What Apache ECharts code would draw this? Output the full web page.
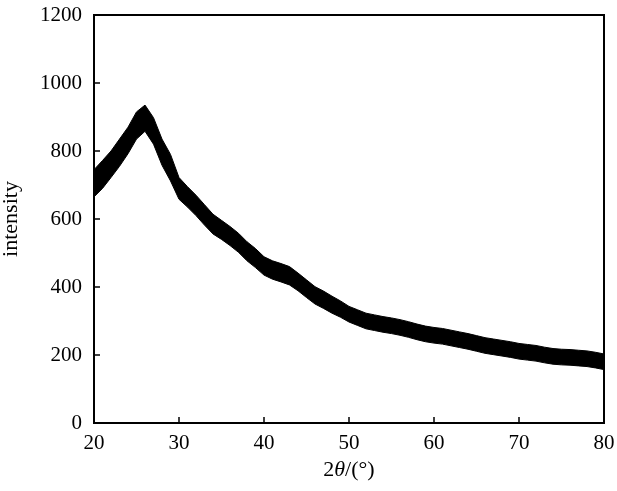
<!DOCTYPE html>
<html>
<head>
<meta charset="utf-8">
<script src="https://cdn.jsdelivr.net/npm/echarts@6/dist/echarts.min.js"></script>
<style>html,body{margin:0;padding:0;background:#fff}#c{width:617px;height:491px}</style>
</head>
<body>
<div id="c"></div>
<script>
// 2θ positions (degrees)
const twoTheta = [20,21,22,23,24,25,26,27,28,29,30,31,32,33,34,35,36,37,38,39,40,41,42,43,44,45,46,47,48,49,50,51,52,53,54,55,56,57,58,59,60,61,62,63,64,65,66,67,68,69,70,71,72,73,74,75,76,77,78,79,80];
// lower edge of the noisy trace (intensity)
const lowerEdge = [665,690,722,755,792,835,858,820,758,712,658,635,610,582,556,540,522,502,477,457,435,423,415,406,389,369,350,337,323,311,297,287,277,272,267,263,258,252,245,239,235,232,227,222,217,211,205,201,197,193,188,185,182,177,173,171,170,168,166,162,157];
// upper edge of the noisy trace (intensity)
const upperEdge = [745,772,800,835,870,915,935,898,835,790,722,695,670,642,614,596,578,558,533,513,489,477,469,460,441,421,401,388,373,359,343,333,323,318,313,309,304,298,291,285,281,278,273,268,263,257,251,247,243,239,234,231,228,223,219,217,216,214,212,208,203];
const xTicks = [20,30,40,50,60,70,80];
const yTicks = [0,200,400,600,800,1000,1200];

const bandData = twoTheta.map((x,i)=>[x, lowerEdge[i], upperEdge[i]]);

const font = 'Liberation Serif';
const chart = echarts.init(document.getElementById('c'), null, {renderer:'canvas'});
chart.setOption({
  animation:false,
  grid:{left:94,right:13,top:15,bottom:68,containLabel:false,outerBoundsMode:'none',show:true,borderColor:'#000',borderWidth:2,backgroundColor:'transparent'},
  xAxis:{
    type:'value',min:xTicks[0],max:xTicks[xTicks.length-1],interval:10,
    name:'2{i|θ}/(°)',nameLocation:'middle',nameGap:36,
    nameTextStyle:{fontFamily:font,fontSize:22,color:'#000',rich:{i:{fontFamily:font,fontStyle:'italic',fontSize:22,color:'#000'}}},
    axisLine:{lineStyle:{color:'#000',width:2}},
    axisTick:{inside:true,length:6,lineStyle:{color:'#000',width:1.5}},
    axisLabel:{fontFamily:font,fontSize:21,color:'#000',margin:10,formatter:v=>String(v)},
    splitLine:{show:false}
  },
  yAxis:{
    type:'value',min:yTicks[0],max:yTicks[yTicks.length-1],interval:200,
    name:'intensity',nameLocation:'middle',nameGap:72,
    nameTextStyle:{fontFamily:font,fontSize:22,color:'#000'},
    axisLine:{show:true,lineStyle:{color:'#000',width:2}},
    axisTick:{show:true,inside:true,length:6,lineStyle:{color:'#000',width:1.5}},
    axisLabel:{fontFamily:font,fontSize:21,color:'#000',margin:12,formatter:v=>String(v)},
    splitLine:{show:false}
  },
  series:[{
    type:'custom',
    data:bandData,
    encode:{x:0,y:[1,2]},
    silent:true,
    renderItem:function(params, api){
      if(params.dataIndex !== 0) return null;
      const pts = [];
      for(let i=0;i<bandData.length;i++) pts.push(api.coord([bandData[i][0], bandData[i][2]]));
      for(let i=bandData.length-1;i>=0;i--) pts.push(api.coord([bandData[i][0], bandData[i][1]]));
      return {type:'polygon',shape:{points:pts},style:{fill:'#000',stroke:'#000',lineWidth:1}};
    }
  }]
});
</script>
</body>
</html>
